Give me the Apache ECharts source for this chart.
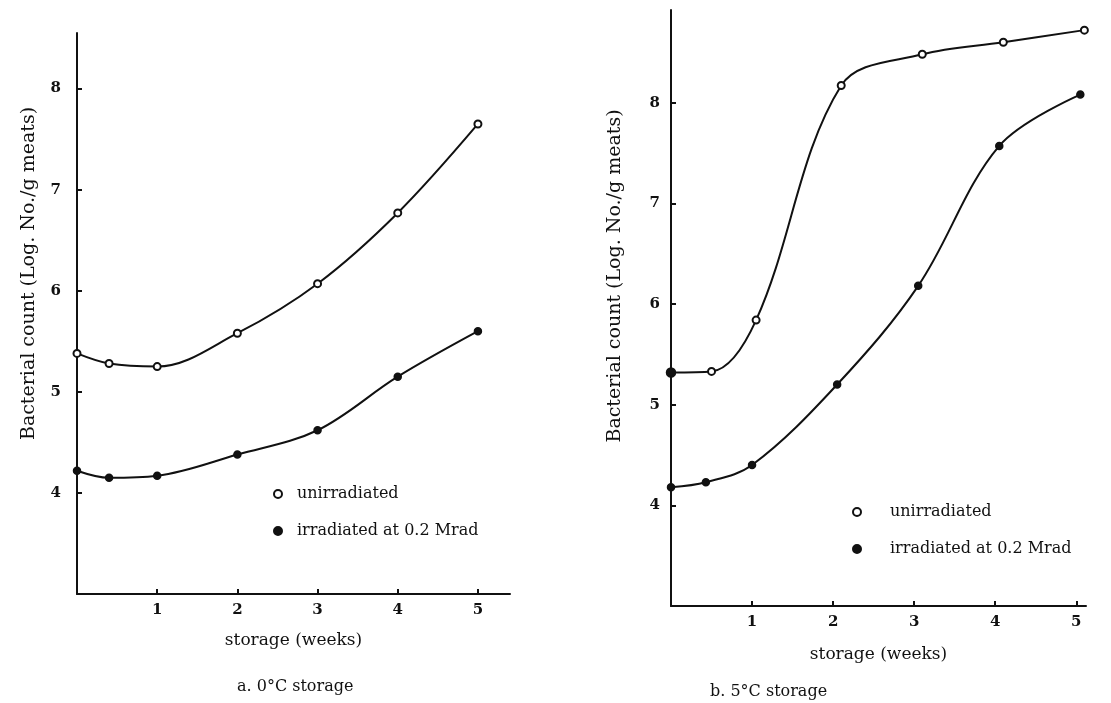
<!DOCTYPE html>
<html>
<head>
<meta charset="utf-8">
<script src="https://cdn.jsdelivr.net/npm/echarts@6/dist/echarts.min.js"></script>
<style>html,body{margin:0;padding:0;background:#fff}#c{width:1111px;height:703px}</style>
</head>
<body>
<div id="c"></div>
<script>
// Panel a: 0°C storage
var weeksA_unirr = [0, 0.4, 1, 2, 3, 4, 5];
var countA_unirr = [5.38, 5.28, 5.25, 5.58, 6.07, 6.77, 7.65];
var weeksA_irr = [0, 0.4, 1, 2, 3, 4, 5];
var countA_irr = [4.22, 4.15, 4.17, 4.38, 4.62, 5.15, 5.6];
// Panel b: 5°C storage
var weeksB_unirr = [0, 0.5, 1.05, 2.1, 3.1, 4.1, 5.1];
var countB_unirr = [5.32, 5.33, 5.84, 8.17, 8.48, 8.6, 8.72];
var weeksB_irr = [0, 0.43, 1.0, 2.05, 3.05, 4.05, 5.05];
var countB_irr = [4.18, 4.23, 4.4, 5.2, 6.18, 7.57, 8.08];

var xTicks = [1, 2, 3, 4, 5];
var yTicks = [4, 5, 6, 7, 8];
var seriesNames = ['unirradiated', 'irradiated at 0.2 Mrad'];
var captions = ['a. 0°C storage', 'b. 5°C storage'];
var xTitle = 'storage (weeks)';
var yTitle = 'Bacterial count (Log. No./g meats)';

function pairs(xs, ys) { return xs.map(function (x, i) { return [x, ys[i]]; }); }

var FONT = 'DejaVu Serif';
var INK = '#111';
var chart = echarts.init(document.getElementById('c'), null, {renderer: 'canvas'});

function xAxis(gridIndex, max, gap) {
  return {
    type: 'value', gridIndex: gridIndex, min: 0, max: max,
    name: xTitle, nameLocation: 'middle', nameGap: gap,
    nameTextStyle: {fontFamily: FONT, fontSize: 17, color: INK},
    axisLine: {show: true, onZero: false, lineStyle: {color: INK, width: 2}},
    axisTick: {show: true, inside: true, length: 5, customValues: xTicks, lineStyle: {color: INK, width: 2}},
    axisLabel: {customValues: xTicks, fontFamily: FONT, fontSize: 15, fontWeight: 'bold', color: INK, margin: 9},
    splitLine: {show: false}
  };
}
function yAxis(gridIndex, max, gap, shift, margin) {
  return {
    type: 'value', gridIndex: gridIndex, min: 3, max: max,
    name: yTitle, nameLocation: 'middle', nameGap: gap, nameRotate: 90,
    nameTextStyle: {fontFamily: FONT, fontSize: 19, color: INK, padding: [0, 0, 0, shift]},
    axisLine: {show: true, onZero: false, lineStyle: {color: INK, width: 2}},
    axisTick: {show: true, inside: true, length: 5, customValues: yTicks, lineStyle: {color: INK, width: 2}},
    axisLabel: {customValues: yTicks, fontFamily: FONT, fontSize: 15, fontWeight: 'bold', color: INK, margin: margin},
    splitLine: {show: false}
  };
}
function line(name, xi, data, symbol) {
  return {
    name: name, type: 'line', xAxisIndex: xi, yAxisIndex: xi, data: data,
    smooth: 0.35, symbol: symbol, symbolSize: 7,
    itemStyle: {color: INK, borderColor: INK, borderWidth: 1.5},
    lineStyle: {color: INK, width: 2},
    z: 3, silent: true
  };
}

var bUnirr = pairs(weeksB_unirr, countB_unirr);
bUnirr[0] = {value: bUnirr[0], symbol: 'circle', symbolSize: 9};

var capStyle = {fontFamily: FONT, fontSize: 16, fontWeight: 'normal', color: INK};
var legStyle = {fontFamily: FONT, fontSize: 16, color: INK};

chart.setOption({
  animation: false,
  backgroundColor: '#fff',
  title: [
    {text: captions[0], left: 237, top: 679, padding: 0, textStyle: capStyle},
    {text: captions[1], left: 710, top: 684, padding: 0, textStyle: capStyle}
  ],
  legend: [
    {left: 273, top: 486, orient: 'vertical', itemGap: 21, itemWidth: 8, itemHeight: 8, padding: 0,
     textStyle: Object.assign({padding: [0, 0, 0, 10]}, legStyle),
     data: [{name: seriesNames[0], icon: 'emptyCircle'}, {name: seriesNames[1], icon: 'circle'}]},
    {left: 852, top: 504, orient: 'vertical', itemGap: 21, itemWidth: 8, itemHeight: 8, padding: 0,
     textStyle: Object.assign({padding: [0, 0, 0, 24]}, legStyle),
     data: [{name: seriesNames[0], icon: 'emptyCircle'}, {name: seriesNames[1], icon: 'circle'}]}
  ],
  grid: [
    {left: 77, top: 33, width: 433, height: 561},
    {left: 671, top: 10, width: 415, height: 596}
  ],
  xAxis: [xAxis(0, 5.4, 38), xAxis(1, 5.12, 40)],
  yAxis: [yAxis(0, 8.55, 38, 80, 16), yAxis(1, 8.92, 46, 64, 11)],
  series: [
    line(seriesNames[0], 0, pairs(weeksA_unirr, countA_unirr), 'emptyCircle'),
    line(seriesNames[1], 0, pairs(weeksA_irr, countA_irr), 'circle'),
    line(seriesNames[0], 1, bUnirr, 'emptyCircle'),
    line(seriesNames[1], 1, pairs(weeksB_irr, countB_irr), 'circle')
  ]
});
</script>
</body>
</html>
